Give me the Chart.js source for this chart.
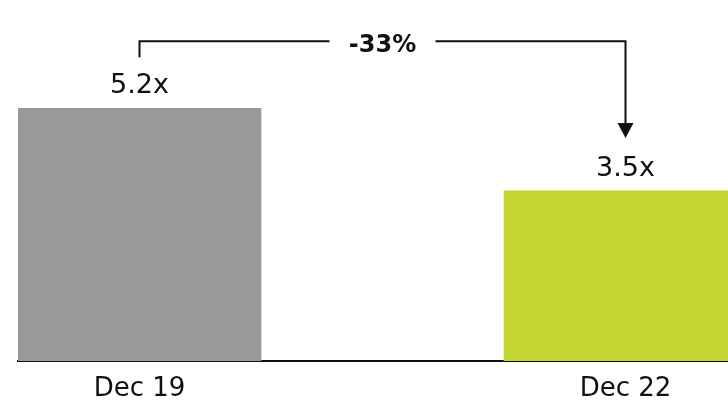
<!DOCTYPE html>
<html>
<head>
<meta charset="utf-8">
<script src="https://cdn.jsdelivr.net/npm/chart.js@4/dist/chart.umd.min.js"></script>
<style>
  html, body { margin: 0; padding: 0; background: #fff; }
  #wrap { width: 728px; height: 404px; overflow: hidden; position: relative; }
  #chart { display: block; }
</style>
</head>
<body>
<div id="wrap"><canvas id="chart" width="760" height="404"></canvas></div>
<script>
// Two periods, middle slot left empty so the bars sit one gap apart.
const categories = ['Dec 19', '', 'Dec 22'];
const multiples = [5.2, null, 3.5];
const barColors = ['#999999', '#ffffff', '#c2d530'];
const valueSuffix = 'x';

const FONT = '"DejaVu Sans", Verdana, sans-serif';

// value labels above each bar
const valueLabels = {
  id: 'valueLabels',
  afterDatasetsDraw(chart) {
    const ctx = chart.ctx;
    const meta = chart.getDatasetMeta(0);
    ctx.save();
    ctx.font = '27px ' + FONT;
    ctx.fillStyle = '#111';
    ctx.textAlign = 'center';
    ctx.textBaseline = 'middle';
    meta.data.forEach((bar, i) => {
      if (multiples[i] == null) return;
      ctx.fillText(multiples[i].toFixed(1) + valueSuffix, bar.x, bar.y - 22);
    });
    ctx.restore();
  }
};

// change bracket: left bar -> right bar with % in the middle
const changeBracket = {
  id: 'changeBracket',
  afterDatasetsDraw(chart) {
    const ctx = chart.ctx;
    const meta = chart.getDatasetMeta(0);
    const a = meta.data[0], b = meta.data[2];
    const pct = Math.round((multiples[2] / multiples[0] - 1) * 100);
    const label = (pct > 0 ? '+' : '') + pct + '%';
    const lineY = Math.min(a.y, b.y) - 67;
    const mid = (a.x + b.x) / 2;
    const gap = 53;
    const tipY = b.y - 53;

    ctx.save();
    ctx.strokeStyle = '#111';
    ctx.fillStyle = '#111';
    ctx.lineWidth = 2;
    ctx.beginPath();
    ctx.moveTo(a.x, a.y - 51);
    ctx.lineTo(a.x, lineY);
    ctx.lineTo(mid - gap, lineY);
    ctx.moveTo(mid + gap, lineY);
    ctx.lineTo(b.x, lineY);
    ctx.lineTo(b.x, tipY - 14);
    ctx.stroke();

    ctx.beginPath();
    ctx.moveTo(b.x - 8, tipY - 15);
    ctx.lineTo(b.x + 8, tipY - 15);
    ctx.lineTo(b.x, tipY);
    ctx.closePath();
    ctx.fill();

    ctx.font = 'bold 24px ' + FONT;
    ctx.textAlign = 'center';
    ctx.textBaseline = 'middle';
    ctx.fillText(label, mid, lineY + 4);
    ctx.restore();
  }
};

new Chart(document.getElementById('chart'), {
  type: 'bar',
  data: {
    labels: categories,
    datasets: [{
      data: multiples,
      backgroundColor: barColors,
      borderWidth: 0,
      barPercentage: 1,
      categoryPercentage: 1,
    }],
  },
  options: {
    responsive: false,
    animation: false,
    events: [],
    layout: { padding: { left: 18, right: 13, top: 0, bottom: 0 } },
    plugins: { legend: { display: false }, tooltip: { enabled: false } },
    scales: {
      x: {
        grid: { display: false, drawTicks: false },
        border: { display: true, color: '#111', width: 2 },
        ticks: { color: '#111', font: { family: FONT, size: 26 }, padding: 13, maxRotation: 0, autoSkip: false },
        afterFit: (scale) => { scale.height = 43; },
      },
      y: {
        display: false,
        min: 0,
        max: 7.43,
      },
    },
  },
  plugins: [valueLabels, changeBracket],
});
</script>
</body>
</html>
